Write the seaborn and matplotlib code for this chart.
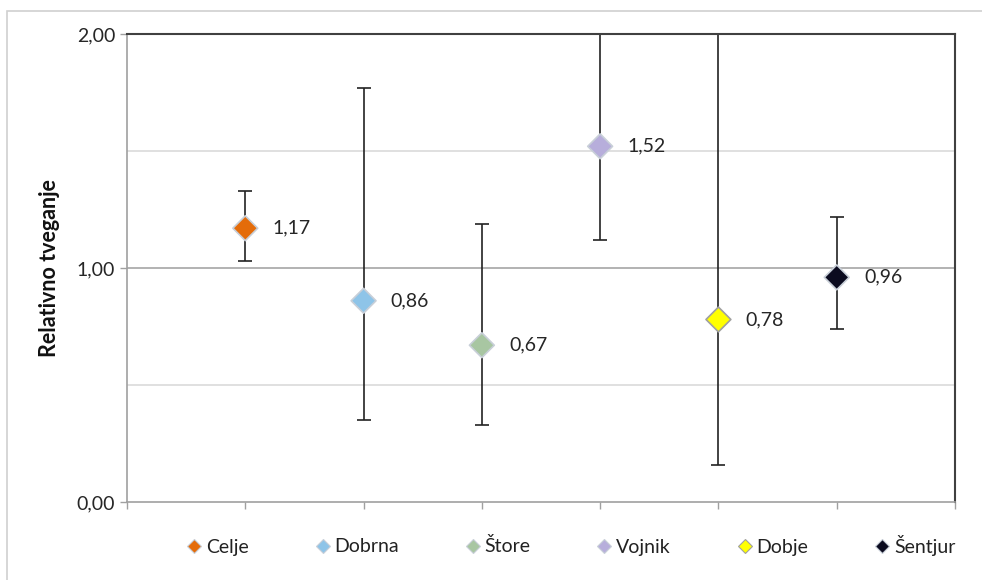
import seaborn as sns
import matplotlib.pyplot as plt
import pandas as pd
from matplotlib.lines import Line2D
from matplotlib.patches import Rectangle

# data
places = ["Celje", "Dobrna", "Štore", "Vojnik", "Dobje", "Šentjur"]
rr = [1.17, 0.86, 0.67, 1.52, 0.78, 0.96]
ci_low = [1.03, 0.35, 0.33, 1.12, 0.16, 0.74]
ci_high = [1.33, 1.77, 1.19, 2.30, 3.80, 1.22]
colors = ["#E46C0A", "#8EC4E8", "#A8C6A2", "#B7AEDB", "#FFFF00", "#0B0B1F"]
edges = ["#C8CFD8", "#C8CFD8", "#C8CFD8", "#C8CFD8", "#A0A0A0", "#C8CFD8"]

df = pd.DataFrame({"place": places, "rr": rr, "lo": ci_low, "hi": ci_high})
df["pos"] = range(1, len(df) + 1)

sns.set_style("white")
plt.rcParams["font.family"] = ["Lato", "DejaVu Sans"]

fig = plt.figure(figsize=(9.82, 5.80), dpi=100)
ax = fig.add_axes([127 / 982, 78 / 580, 828 / 982, 468 / 580])

# outer chart frame
fig.add_artist(Rectangle((7 / 982, -0.1), 1.2, 0.1 + 569 / 580, transform=fig.transFigure,
                         fill=False, edgecolor="#D0D0D0", lw=1.2))

for yv, c in [(0.5, "#DADADA"), (1.5, "#DADADA"), (1.0, "#A6A6A6")]:
    ax.axhline(yv, color=c, lw=1.2, zorder=0)

ax.errorbar(df["pos"], df["rr"], yerr=[df["rr"] - df["lo"], df["hi"] - df["rr"]],
            fmt="none", ecolor="#222222", elinewidth=1.2, capsize=5, capthick=1.2, zorder=2)

sns.scatterplot(data=df, x="pos", y="rr", hue="place", palette=colors, marker="D",
                s=160, edgecolor=edges, linewidth=1.2, legend=False, ax=ax, zorder=3)

for p, v in zip(df["pos"], df["rr"]):
    ax.text(p + 0.23, v, f"{v:.2f}".replace(".", ","), va="center", ha="left",
            fontsize=14, color="#262626")

ax.set_xlim(0, 7)
ax.set_ylim(0, 2)
ax.set_xticks(range(0, 8))
ax.set_xticklabels([])
ax.set_yticks([0, 1, 2])
ax.set_yticklabels(["0,00", "1,00", "2,00"], fontsize=14, color="#262626")
ax.tick_params(axis="both", direction="out", length=5, color="#A0A0A0", width=1, left=True, bottom=True)
ax.set_xlabel("")
ax.set_ylabel("Relativno tveganje", fontsize=15.5, fontweight="bold", labelpad=12, color="#111111")

for s in ["left", "bottom"]:
    ax.spines[s].set_color("#A0A0A0")
    ax.spines[s].set_linewidth(1.2)
for s in ["top", "right"]:
    ax.spines[s].set_color("#404040")
    ax.spines[s].set_linewidth(1.5)

handles = [Line2D([], [], marker="D", ls="none", markersize=7.5, markerfacecolor=c,
                  markeredgecolor=e, markeredgewidth=0.8) for c, e in zip(colors, edges)]
fig.legend(handles, places, loc="center", bbox_to_anchor=(570 / 982, 1 - 545 / 580), ncol=6,
           frameon=False, fontsize=14, handletextpad=0.1, columnspacing=3.3, handlelength=1.0,
           labelcolor="#222222")

fig.savefig("out.png", dpi=100)
